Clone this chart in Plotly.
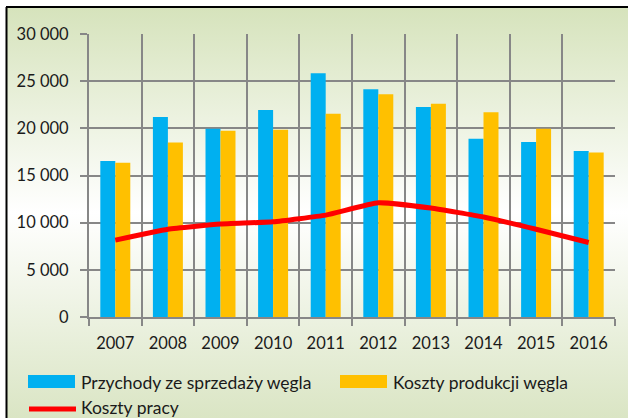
import base64
import plotly.graph_objects as go

# ---- data ----
years = ["2007", "2008", "2009", "2010", "2011", "2012", "2013", "2014", "2015", "2016"]
przychody = [16550, 21200, 19950, 21950, 25850, 24150, 22250, 18900, 18550, 17600]
koszty_produkcji = [16350, 18500, 19750, 19850, 21550, 23600, 22600, 21700, 19950, 17450]
koszty_pracy = [8150, 9300, 9850, 10100, 10800, 12100, 11550, 10600, 9300, 7900]
y_tickvals = [0, 5000, 10000, 15000, 20000, 25000, 30000]
y_ticktext = ["0", "5 000", "10 000", "15 000", "20 000", "25 000", "30 000"]
legend_names = ["Przychody ze sprzedaży węgla", "Koszty produkcji węgla", "Koszty pracy"]

# ---- geometry (pixels) ----
W, H = 628, 418
L, R, T, B = 89, 615, 34, 317
PW, PH = R - L, B - T


def px(x):
    return (x - L) / PW


def py(y):
    return (B - y) / PH


BLUE = "#00b0f0"
ORANGE = "#ffc000"
RED = "#ff0000"
GRID = "#878787"
FONT = "Lato"
TXT = "#1a1a1a"
NOLINE = dict(width=0, color="rgba(0,0,0,0)")

fig = go.Figure()
fig.add_trace(go.Bar(x=years, y=przychody, name=legend_names[0],
                     marker=dict(color=BLUE, line=NOLINE)))
fig.add_trace(go.Bar(x=years, y=koszty_produkcji, name=legend_names[1],
                     marker=dict(color=ORANGE, line=NOLINE)))
fig.add_trace(go.Scatter(x=years, y=koszty_pracy, name=legend_names[2], mode="lines",
                         line=dict(color=RED, width=5, shape="spline", smoothing=0.4)))

# background gradient image (green top -> white middle -> green bottom)
BG_X0, BG_Y0 = 6, 8
bw, bh = W - BG_X0, H - BG_Y0
svg = (
    '<svg xmlns="http://www.w3.org/2000/svg" width="%d" height="%d" '
    'viewBox="0 0 %d %d" preserveAspectRatio="none">'
    '<defs><linearGradient id="g" x1="0" y1="0" x2="0" y2="1">'
    '<stop offset="0" stop-color="#d6e3bc"/>'
    '<stop offset="0.5" stop-color="#ffffff"/>'
    '<stop offset="1" stop-color="#dae5c4"/>'
    '</linearGradient></defs>'
    '<rect x="0" y="0" width="%d" height="%d" fill="url(#g)"/></svg>'
) % (bw, bh, bw, bh, bw, bh)
src = "data:image/svg+xml;base64," + base64.b64encode(svg.encode()).decode()

images = [dict(source=src, xref="paper", yref="paper",
               x=px(BG_X0), y=py(BG_Y0), sizex=bw / PW, sizey=bh / PH,
               xanchor="left", yanchor="top", sizing="stretch", layer="below")]

shapes = []
# black frame (top and left)
shapes.append(dict(type="line", xref="paper", yref="paper", layer="above",
                   x0=px(6), x1=px(W), y0=py(7), y1=py(7),
                   line=dict(color="#000000", width=2)))
shapes.append(dict(type="line", xref="paper", yref="paper", layer="above",
                   x0=px(6.5), x1=px(6.5), y0=py(7), y1=py(H),
                   line=dict(color="#000000", width=2)))

# custom legend
shapes.append(dict(type="rect", xref="paper", yref="paper", layer="above",
                   x0=px(28), x1=px(75), y0=py(388), y1=py(375),
                   fillcolor=BLUE, line=NOLINE))
shapes.append(dict(type="rect", xref="paper", yref="paper", layer="above",
                   x0=px(340), x1=px(387), y0=py(388), y1=py(375),
                   fillcolor=ORANGE, line=NOLINE))
shapes.append(dict(type="line", xref="paper", yref="paper", layer="above",
                   x0=px(29), x1=px(76), y0=py(409), y1=py(409),
                   line=dict(color=RED, width=5)))

LEG_SIZE = 17.5
annotations = [
    dict(text=legend_names[0], x=px(79), y=py(382), xref="paper", yref="paper",
         xanchor="left", yanchor="middle", showarrow=False,
         font=dict(family=FONT, size=LEG_SIZE, color=TXT)),
    dict(text=legend_names[1], x=px(391), y=py(382), xref="paper", yref="paper",
         xanchor="left", yanchor="middle", showarrow=False,
         font=dict(family=FONT, size=LEG_SIZE, color=TXT)),
    dict(text=legend_names[2], x=px(79), y=py(407), xref="paper", yref="paper",
         xanchor="left", yanchor="middle", showarrow=False,
         font=dict(family=FONT, size=LEG_SIZE, color=TXT)),
]

fig.update_layout(
    width=W, height=H, autosize=False,
    margin=dict(l=L, r=W - R, t=T, b=H - B, pad=0),
    paper_bgcolor="#ffffff", plot_bgcolor="rgba(0,0,0,0)",
    barmode="group", bargap=0.43, bargroupgap=0.0,
    showlegend=False,
    font=dict(family=FONT, size=16, color=TXT),
    images=images, shapes=shapes, annotations=annotations,
    xaxis=dict(type="category", tickson="boundaries", range=[-0.5, 9.5],
               showgrid=True, gridcolor=GRID, gridwidth=2,
               showline=True, linecolor=GRID, linewidth=2,
               ticks="outside", ticklen=7, tickwidth=2, tickcolor=GRID,
               ticklabelstandoff=10, tickfont=dict(family=FONT, size=16.5, color=TXT),
               zeroline=False, fixedrange=True),
    yaxis=dict(range=[0, 30000], tickvals=y_tickvals, ticktext=y_ticktext,
               showgrid=True, gridcolor=GRID, gridwidth=2,
               showline=True, linecolor=GRID, linewidth=2,
               ticks="outside", ticklen=7, tickwidth=2, tickcolor=GRID,
               ticklabelstandoff=8, tickfont=dict(family=FONT, size=16.5, color=TXT),
               zeroline=False, fixedrange=True),
)

fig.write_html(
    "out.html",
    config={"displayModeBar": False},
    post_script="document.body.style.margin='0';document.body.style.padding='0';"
                "document.body.style.overflow='hidden';",
)
